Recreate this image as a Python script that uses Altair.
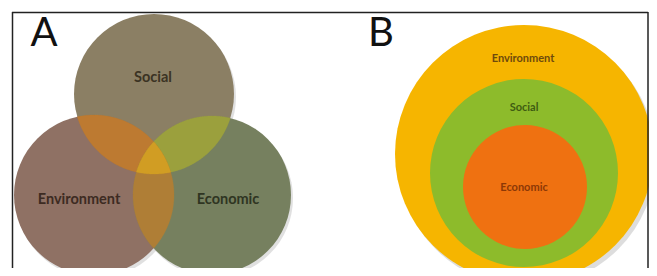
import altair as alt
import numpy as np
import pandas as pd

# ---- Panel A: Venn diagram (three overlapping circles) ----
venn_labels = ["Social", "Environment", "Economic"]
venn_cx = [154, 94, 212]
venn_cy = [94, 195, 195]
venn_r = [80, 80, 79]
venn_colors = ["#8b7f64", "#8f7164", "#76805f"]
venn_text_x = [153, 79, 228]
venn_text_y = [78, 200, 200]
venn_text_colors = ["#3b3323", "#3d2b22", "#2f3522"]

# overlap regions (indices into venn arrays) and colours
overlap_sets = [[0, 1], [0, 2], [1, 2], [0, 1, 2]]
overlap_colors = ["#c17b2c", "#9ea33b", "#b47e33", "#d49f22"]

# ---- Panel B: nested circles ----
nest_labels = ["Environment", "Social", "Economic"]
nest_cx = [524, 524, 525]
nest_cy = [154, 173, 187]
nest_r = [129, 94, 62]
nest_colors = ["#f6b500", "#8dbb2b", "#ef7111"]
nest_text_x = [523, 524, 524]
nest_text_y = [59, 108, 188]
nest_text_colors = ["#6e4a0c", "#3f5c12", "#8c3806"]

panel_letters = ["A", "B"]
letter_x = [44, 381]
letter_y = [34, 34]

# visible page area: picture pixels 8..649 x 8..268 (1:1)
W, H = 641, 260
xs = alt.Scale(domain=[8, 8 + W], nice=False, zero=False)
ys = alt.Scale(domain=[8, 8 + H], nice=False, zero=False, reverse=True)
X = lambda f: alt.X(f, type="quantitative", scale=xs, axis=None)
Y = lambda f: alt.Y(f, type="quantitative", scale=ys, axis=None)

venn_df = pd.DataFrame({"label": venn_labels, "x": venn_cx, "y": venn_cy,
                        "r": venn_r, "color": venn_colors})
venn_df["size"] = (2 * venn_df["r"]) ** 2  # Vega symbol size: diameter = sqrt(size)
venn_df["sx"] = venn_df["x"] + 2
venn_df["sy"] = venn_df["y"] + 3

nest_df = pd.DataFrame({"label": nest_labels, "x": nest_cx, "y": nest_cy,
                        "r": nest_r, "color": nest_colors})
nest_df["size"] = (2 * nest_df["r"]) ** 2
nest_df["sx"] = nest_df["x"] + 3
nest_df["sy"] = nest_df["y"] + 4


def region(ids):
    pts = []
    th = np.linspace(0, 2 * np.pi, 720, endpoint=False)
    for i in ids:
        px = venn_cx[i] + venn_r[i] * np.cos(th)
        py = venn_cy[i] + venn_r[i] * np.sin(th)
        ok = np.ones_like(px, dtype=bool)
        for j in ids:
            if j != i:
                ok &= (px - venn_cx[j]) ** 2 + (py - venn_cy[j]) ** 2 <= venn_r[j] ** 2 + 1e-6
        pts += list(zip(px[ok], py[ok]))
    pts = np.array(pts)
    c = pts.mean(axis=0)
    ang = np.arctan2(pts[:, 1] - c[1], pts[:, 0] - c[0])
    pts = pts[np.argsort(ang)]
    pts = np.vstack([pts, pts[:1]])
    return pts


shadow_a = alt.Chart(venn_df).mark_circle(opacity=0.18, color="#555555").encode(
    x=X("sx"), y=Y("sy"), size=alt.Size("size:Q", scale=None))
circles_a = alt.Chart(venn_df).mark_circle(opacity=1).encode(
    x=X("x"), y=Y("y"), size=alt.Size("size:Q", scale=None),
    color=alt.Color("color:N", scale=None))

lens_layers = []
for ids, col in zip(overlap_sets, overlap_colors):
    p = region(ids)
    d = pd.DataFrame({"x": p[:, 0], "y": p[:, 1], "o": np.arange(len(p))})
    lens_layers.append(
        alt.Chart(d).mark_line(fill=col, stroke=col, strokeWidth=0.5, fillOpacity=0.92,
                               strokeOpacity=0.5).encode(
            x=X("x"), y=Y("y"), order="o:Q"))

text_a = alt.Chart(pd.DataFrame({"t": venn_labels, "x": venn_text_x, "y": venn_text_y,
                                 "c": venn_text_colors})).mark_text(
    font="Lato", fontSize=14.5, fontWeight="bold").encode(
    x=X("x"), y=Y("y"), text="t:N", color=alt.Color("c:N", scale=None))

shadow_b = alt.Chart(nest_df.iloc[[0]]).mark_circle(opacity=0.25, color="#777777").encode(
    x=X("sx"), y=Y("sy"), size=alt.Size("size:Q", scale=None))
circles_b = alt.Chart(nest_df).mark_circle(opacity=1).encode(
    x=X("x"), y=Y("y"), size=alt.Size("size:Q", scale=None),
    color=alt.Color("color:N", scale=None), order=alt.Order("r:Q", sort="descending"))
text_b = alt.Chart(pd.DataFrame({"t": nest_labels, "x": nest_text_x, "y": nest_text_y,
                                 "c": nest_text_colors})).mark_text(
    font="Lato", fontSize=11, fontWeight="bold").encode(
    x=X("x"), y=Y("y"), text="t:N", color=alt.Color("c:N", scale=None))

letters_df = pd.DataFrame({"t": panel_letters, "x": letter_x, "y": letter_y})
letters = alt.Chart(letters_df).mark_text(
    font="Lato", fontSize=40, color="#111111",
    ).encode(x=X("x"), y=Y("y"), text="t:N")

frame_df = pd.DataFrame({"x": [12, 12.5, 648], "x2": [648, 12.5, 648],
                         "y": [12.5, 12, 12], "y2": [12.5, 268, 268]})
frame = alt.Chart(frame_df).mark_rule(color="#222222", strokeWidth=1.5).encode(
    x=X("x"), x2="x2", y=Y("y"), y2="y2")

chart = alt.layer(
    shadow_a, circles_a, *lens_layers, text_a,
    shadow_b, circles_b, text_b,
    letters, frame
).properties(width=W, height=H, padding=0, autosize="none",
             background="white").configure_view(stroke=None)

chart.save("out.html", embed_options={"renderer": "svg", "actions": False})
